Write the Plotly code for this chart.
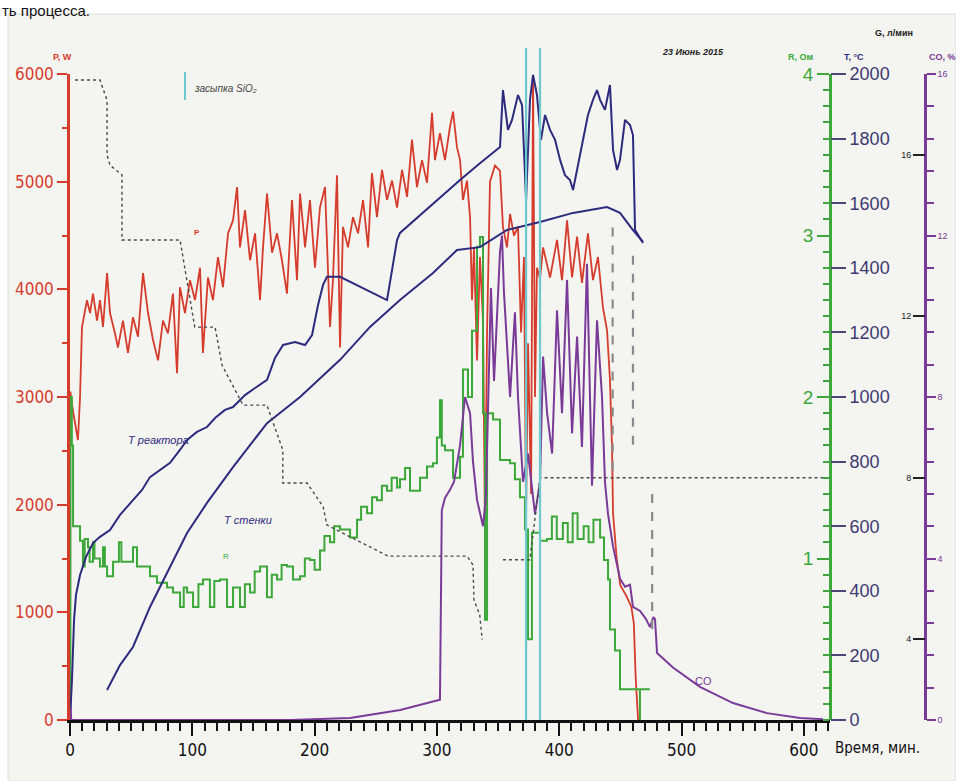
import plotly.graph_objects as go

# ---------------- data (time in minutes) ----------------
# Power P, W
p_time = [0, 0.3, 2, 4, 6.5, 8.2, 9.8, 13.9, 16.4, 18.8, 22.1, 24.5, 27, 30.3, 32.7, 36.8, 39.2,
          43.3, 47.4, 51.5, 55.6, 59.7, 63.8, 67.9, 72, 76, 80.1, 84.2, 87.5, 89.9, 94, 98.1,
          102.2, 106.3, 108.7, 112.8, 116.9, 121, 125.1, 129.2, 133.3, 136.6, 139, 143.1, 147.2,
          151.3, 155.4, 157.8, 161.1, 165.2, 169.3, 173.3, 177.4, 181.5, 185.6, 188.1, 192.2,
          196.2, 200.3, 204.4, 208.5, 212.6, 215, 218.3, 220.8, 223.2, 227.3, 231.4, 235.5,
          239.6, 243.7, 246.9, 251, 255.1, 259.2, 263.3, 267.4, 271.5, 275.6, 279.6, 283.7,
          287.8, 291.9, 296, 298.4, 302.5, 306.6, 310.7, 313.2, 316.4, 318.9, 321.3, 324.6,
          327.1, 328.7, 330.3, 332.8, 335.2, 337.7, 339.3, 341, 343.4, 347.5, 351.6, 354,
          357.3, 359.8, 363, 366.3, 368.8, 371.2, 372.9, 374.5, 377, 378.6, 380.2, 381.8,
          384.3, 386.8, 392.5, 398.2, 402.3, 406.4, 410.5, 414.6, 418.6, 423.5, 427.6, 431.7,
          435.8, 439.1, 441.5, 443.2, 444, 447, 450, 455, 459, 461, 462.5, 464.5]
p_power = [0, 3050, 2900, 2750, 2600, 3000, 3650, 3900, 3780, 3960, 3710, 3900, 3650, 4150,
           3780, 3590, 3460, 3710, 3410, 3740, 3560, 4150, 3780, 3530, 3340, 3710, 3590, 3960,
           3220, 4020, 3780, 4085, 3900, 4200, 3410, 4110, 3900, 4300, 4020, 4520, 4640, 4950,
           4390, 4735, 4270, 4520, 3900, 4390, 4890, 4340, 4520, 4270, 3960, 4830, 4085, 4890,
           4390, 4830, 4200, 4760, 4950, 3650, 4085, 5060, 3460, 4580, 4390, 4670, 4520, 4830,
           4390, 5080, 4670, 5110, 4830, 5010, 4760, 5110, 4860, 5390, 4950, 5200, 4990, 5640,
           5200, 5450, 5200, 5510, 5650, 5320, 5200, 4830, 5010, 4670, 3900, 4390, 3340, 4300,
           3700, 1760, 3600, 5000, 5150, 5100, 4580, 4390, 4700, 4500, 4580, 3600, 4300, 1900,
           3500, 2100, 5970, 3000, 4200, 4100, 4390, 4110, 4460, 4085, 4640, 4110, 4490, 4060,
           4520, 4085, 4300, 3830, 3620, 3160, 2530, 1920, 1500, 1250, 1150, 1050, 900, 400, 0]

# Reactor temperature, °C
tr_time = [0, 1.6, 3.3, 4.9, 8.2, 13.1, 18.8, 24.5, 32.7, 40.9, 51.5, 58.9, 65.4, 73.6, 81.8,
           89.9, 95.7, 103.8, 112, 118.6, 126.7, 133.3, 143.1, 151.3, 161.1, 167.6, 174.2, 184,
           192.2, 197.9, 202.8, 206.9, 210.1, 220.8, 259.2, 263.3, 267.4, 269.8, 286.2, 302.5,
           318.9, 335.2, 349.1, 351.6, 354, 358.1, 361.4, 366.3, 369.6, 372.9, 376.1, 378.6,
           381.8, 385.1, 388.4, 392.5, 396.6, 400.7, 404.7, 408.8, 411.3, 414.6, 419.5, 423.5,
           427.6, 430.9, 433.4, 437.4, 441.5, 444, 447.3, 449.7, 453.8, 457.9, 460.3, 462, 468.5]
tr_temp = [0, 124, 310, 387, 449, 505, 548, 567, 588, 635, 681, 712, 752, 774, 796, 836, 867,
           892, 907, 935, 960, 969, 1006, 1028, 1053, 1121, 1161, 1170, 1161, 1192, 1285, 1347,
           1372, 1372, 1300, 1393, 1486, 1508, 1563, 1619, 1672, 1724, 1765, 1774, 1950, 1827,
           1858, 1935, 1904, 1610, 1920, 1997, 1935, 1796, 1873, 1827, 1796, 1734, 1687, 1672,
           1641, 1703, 1796, 1873, 1920, 1950, 1920, 1889, 1966, 1765, 1703, 1734, 1858, 1842,
           1811, 1517, 1477]

# Wall temperature, °C
tw_time = [30.3, 40.9, 51.5, 65.4, 79.3, 95.7, 112, 133.3, 161.1, 188.1, 220.8, 245.3, 269.8,
           296.8, 316.4, 335.2, 357.3, 384.3, 411.3, 439.1, 449.7, 460.3, 468.5]
tw_temp = [93, 170, 226, 350, 455, 579, 672, 783, 919, 1000, 1115, 1217, 1300, 1384, 1455,
           1464, 1517, 1542, 1570, 1588, 1570, 1517, 1480]

# Resistance R, Ohm
r_time = [0, 0.3, 1.5, 2.5, 8.2, 10.6, 12, 14.7, 16, 18.8, 20, 24.5, 27, 28.5, 30.3, 35.2, 40,
          42, 46.6, 51.5, 54.8, 59.7, 65.4, 71.1, 79.3, 84.2, 90, 93, 95.7, 100.6, 105, 108.7,
          114.4, 118, 122.6, 128.4, 133.3, 139, 143, 147.2, 151, 155.4, 161.1, 165, 169.3, 173,
          177.4, 182.3, 188.1, 192, 196.2, 200, 204.4, 208, 212.6, 216, 220.8, 229, 234.7,
          238, 242.9, 247, 251, 255, 259.2, 263, 267.4, 269.8, 274, 278, 286.2, 291.9, 296.8,
          300, 302.5, 304, 306.6, 313.2, 318.9, 321.3, 325.4, 328.7, 332.8, 335.2, 337.7,
          339.3, 341, 345.9, 351.6, 359.8, 363.8, 367.9, 372, 374.5, 377.7, 384.3, 390, 394,
          398, 403, 407, 411, 415, 420, 424, 428, 433.4, 436.6, 439.9, 441.5, 445.6, 449.7,
          466, 466, 466, 474.1]
r_ohm = [0, 2.0, 1.7, 1.2, 1.11, 0.95, 1.12, 1.07, 0.98, 1.1, 1.0, 0.95, 1.07, 0.95, 0.89,
         0.98, 1.1, 0.98, 0.98, 1.07, 0.95, 0.95, 0.89, 0.85, 0.82, 0.79, 0.7, 0.82, 0.79, 0.7,
         0.84, 0.87, 0.7, 0.86, 0.87, 0.7, 0.82, 0.7, 0.84, 0.79, 0.92, 0.95, 0.76, 0.9, 0.87,
         0.96, 0.95, 0.87, 0.89, 1.0, 0.99, 0.93, 1.05, 1.14, 1.1, 1.2, 1.18, 1.13, 1.24, 1.32,
         1.28, 1.38, 1.36, 1.45, 1.42, 1.5, 1.44, 1.49, 1.56, 1.42, 1.5, 1.57, 1.59, 1.75, 1.98,
         1.7, 1.67, 1.5, 1.63, 2.17, 2.0, 2.41, 2.93, 2.99, 1.9, 0.62, 1.9, 1.86, 1.61, 1.59,
         1.49, 1.38, 1.18, 0.5, 1.16, 1.11, 1.12, 1.26, 1.12, 1.22, 1.1, 1.28, 1.12, 1.2, 1.1,
         1.24, 1.13, 0.99, 0.87, 0.56, 0.43, 0.19, 0.19, 0, 0.19, 0.19]

# CO content, %
co_time = [0, 0.5, 1, 180, 229, 270, 302.5, 304, 306.6, 310.7, 314, 318.9, 323, 327.1, 329.5,
           332.8, 337.7, 340, 344.2, 346.7, 351.6, 353.2, 354.8, 359.8, 363.8, 366.3, 370.4,
           374.5, 380.2, 384.3, 386.8, 390.1, 394.2, 398.2, 402.3, 406.4, 410.5, 414.6, 418.6,
           422.7, 426.8, 430.9, 435, 437.4, 439.9, 444, 449.7, 453.8, 457.9, 460.3, 466.1, 471,
           474.2, 477, 478.3, 480, 493, 515.1, 542.1, 569.9, 596.9, 615.7]
co_pct = [0, 0.3, 0, 0, 0.05, 0.25, 0.5, 5.2, 5.5, 5.7, 5.9, 6.8, 8.0, 7.6, 6.4, 5.45, 4.8, 5.5,
          10.7, 8.4, 11.6, 12.0, 10.6, 8.0, 10.1, 8.0, 5.9, 6.6, 5.1, 5.9, 9.0, 7.6, 6.6, 10.15,
          7.6, 10.9, 7.1, 9.5, 6.76, 11.3, 5.8, 9.9, 8.0, 5.9, 5.1, 4.3, 3.5, 3.3, 3.35, 2.8, 2.7,
          2.5, 2.3, 2.55, 2.5, 1.66, 1.3, 0.82, 0.42, 0.17, 0.05, 0.02]

# Gas flow G, l/min (dotted step record)
g_time = [4.1, 24.5, 30.3, 30.3, 32.7, 42.5, 42.5, 90, 102, 118.6, 124.3, 141.5, 161, 174, 174,
          193.8, 207, 210, 260, 324.6, 329.5, 330.3, 335, 337, None, 354, 376, 384.3, 615.7]
g_flow = [17.85, 17.85, 17.35, 16.0, 15.74, 15.5, 13.89, 13.89, 11.73, 11.73, 10.79, 9.8, 9.8,
          8.69, 7.87, 7.87, 7.28, 6.83, 6.06, 6.06, 5.84, 4.98, 4.6, 3.99, None, 5.97, 5.97,
          8.0, 8.0]

# Gas flow cut-off marks
gcut_time = [443.7, 443.7, None, 460.3, 460.3, None, 476, 476]
gcut_flow = [14.2, 8.1, None, 13.5, 8.76, None, 7.6, 4.16]

# SiO2 charging moments
sio2_times = [372.9, 384.3]

# tick labels
x_ticks = [0, 100, 200, 300, 400, 500, 600]
r_ticks = [1, 2, 3, 4]
g_ticks = [4, 8, 12, 16]

# ---------------- styling ----------------
RED = "#d63c2c"
GREEN = "#3da83a"
NAVY = "#2d2b7e"
PURPLE = "#7a3b98"
TEAL = "#6ec9cc"
BG = "#f4f4f1"
NARROW = "Liberation Sans Narrow, DejaVu Sans Condensed, Liberation Sans, Arial"
SANS = "Liberation Sans, Arial"

W, H = 956, 781
ML, MR, MT, MB = 70, 10, 74, 61
PW = W - ML - MR
PH = H - MT - MB
X_END = 830   # right end of time axis, px
CO_POS = 925  # CO / G axis line, px


def px(x):
    return (x - ML) / PW


def py(y):
    return (H - MB - y) / PH


fig = go.Figure()

fig.add_trace(go.Scatter(x=g_time, y=g_flow, mode="lines", yaxis="y5",
                         line=dict(color="#4a4a4a", width=1.4, dash="dot")))
fig.add_trace(go.Scatter(x=gcut_time, y=gcut_flow, mode="lines", yaxis="y5",
                         line=dict(color="#8a8a8a", width=2.2, dash="dash")))
fig.add_trace(go.Scatter(x=tw_time, y=tw_temp, mode="lines", yaxis="y3",
                         line=dict(color=NAVY, width=2)))
fig.add_trace(go.Scatter(x=tr_time, y=tr_temp, mode="lines", yaxis="y3",
                         line=dict(color=NAVY, width=2)))
fig.add_trace(go.Scatter(x=r_time, y=r_ohm, mode="lines", yaxis="y2",
                         line=dict(color=GREEN, width=2, shape="hv")))
fig.add_trace(go.Scatter(x=co_time, y=co_pct, mode="lines", yaxis="y4",
                         line=dict(color=PURPLE, width=2)))
fig.add_trace(go.Scatter(x=p_time, y=p_power, mode="lines", yaxis="y",
                         line=dict(color=RED, width=1.8)))

shapes = [
    # scanned panel background
    dict(type="rect", xref="paper", yref="paper", x0=px(8), x1=px(W), y0=py(H), y1=py(14),
         fillcolor=BG, line=dict(color="#dcdcda", width=1), layer="below"),
    # legend mark for SiO2 charging
    dict(type="line", xref="paper", yref="paper", x0=px(185), x1=px(185), y0=py(100), y1=py(72),
         line=dict(color=TEAL, width=2)),
]
for t in sio2_times:
    shapes.append(dict(type="line", xref="x", yref="paper", x0=t, x1=t, y0=0, y1=py(48),
                       line=dict(color=TEAL, width=2.2)))

annotations = [
    dict(text="ть процесса.", x=px(0), y=py(0), xanchor="left", yanchor="top",
         font=dict(size=15, color="#111", family=SANS)),
    dict(text="<b>P, W</b>", x=px(62), y=py(57), font=dict(size=9, color=RED, family=SANS)),
    dict(text="<b>R, Ом</b>", x=px(801), y=py(57), font=dict(size=9, color=GREEN, family=SANS)),
    dict(text="<b>T, °C</b>", x=px(854), y=py(57), font=dict(size=9, color=NAVY, family=SANS)),
    dict(text="<b>G, л/мин</b>", x=px(894), y=py(33), font=dict(size=9, color="#222", family=SANS)),
    dict(text="<b>CO, %</b>", x=px(942), y=py(57), font=dict(size=9, color=PURPLE, family=SANS)),
    dict(text="<b><i>23 Июнь 2015</i></b>", x=px(693), y=py(52),
         font=dict(size=9, color="#222", family=SANS)),
    dict(text="<i>засыпка SiO₂</i>", x=px(192), y=py(88), xanchor="left",
         font=dict(size=10, color="#444", family=SANS)),
    dict(text="<i>T реактора</i>", x=px(158), y=py(440), font=dict(size=11, color=NAVY, family=SANS)),
    dict(text="<i>T стенки</i>", x=px(248), y=py(520), font=dict(size=11, color=NAVY, family=SANS)),
    dict(text="<b>P</b>", x=px(197), y=py(232), font=dict(size=8, color=RED, family=SANS)),
    dict(text="R", x=px(226), y=py(556), font=dict(size=8, color=GREEN, family=SANS)),
    dict(text="CO", x=px(703), y=py(681), font=dict(size=11, color=PURPLE, family=SANS)),
    dict(text="Время, мин.", x=px(833), y=py(748), xanchor="left",
         font=dict(size=15, color="#111", family=NARROW)),
]
for a in annotations:
    a.setdefault("xanchor", "center")
    a.setdefault("yanchor", "middle")
    a.update(xref="paper", yref="paper", showarrow=False)

x_dom_end = px(X_END)

fig.update_layout(
    width=W, height=H, template="none", showlegend=False,
    margin=dict(l=ML, r=MR, t=MT, b=MB, pad=0),
    paper_bgcolor="white", plot_bgcolor=BG,
    shapes=shapes, annotations=annotations,
    xaxis=dict(domain=[0, x_dom_end], range=[0, 621.4], showgrid=False, zeroline=False,
               showline=True, linecolor="#111", linewidth=2.5,
               tickmode="array", tickvals=x_ticks, ticktext=[str(v) for v in x_ticks],
               ticks="outside", ticklen=13, tickwidth=2, tickcolor="#111",
               minor=dict(dtick=10, tick0=0, ticks="outside", ticklen=8, tickwidth=1.5,
                          tickcolor="#111", showgrid=False),
               tickfont=dict(size=17, color="#111", family=NARROW), automargin=False),
    yaxis=dict(range=[0, 6000], side="left", showgrid=False, zeroline=False,
               showline=True, linecolor=RED, linewidth=2.5,
               dtick=1000, ticks="outside", ticklen=10, tickwidth=2, tickcolor=RED,
               minor=dict(dtick=500, ticks="outside", ticklen=5, tickwidth=1.5,
                          tickcolor=RED, showgrid=False),
               tickfont=dict(size=17, color=RED, family=NARROW), automargin=False),
    yaxis2=dict(overlaying="y", anchor="free", position=x_dom_end, side="left",
                range=[0, 4], showgrid=False, zeroline=False,
                showline=True, linecolor=GREEN, linewidth=2.5,
                tickmode="array", tickvals=r_ticks, ticks="outside", ticklen=12, tickwidth=2,
                tickcolor=GREEN,
                minor=dict(dtick=0.1, tick0=0, ticks="outside", ticklen=6, tickwidth=1.5,
                           tickcolor=GREEN, showgrid=False),
                tickfont=dict(size=19, color=GREEN, family=SANS), automargin=False),
    yaxis3=dict(overlaying="y", anchor="free", position=x_dom_end, side="right",
                range=[0, 2000], showgrid=False, zeroline=False, showline=False,
                dtick=200, ticks="outside", ticklen=15, tickwidth=2, tickcolor="#4b477a",
                tickfont=dict(size=18, color="#3d3970", family=SANS), automargin=False),
    yaxis4=dict(overlaying="y", anchor="free", position=px(CO_POS), side="right",
                range=[0, 16], showgrid=False, zeroline=False,
                showline=True, linecolor=PURPLE, linewidth=2.5,
                dtick=4, ticks="outside", ticklen=9, tickwidth=2, tickcolor=PURPLE,
                minor=dict(dtick=0.8, ticks="outside", ticklen=7, tickwidth=1.5,
                           tickcolor=PURPLE, showgrid=False),
                tickfont=dict(size=9, color=PURPLE, family=SANS), automargin=False),
    yaxis5=dict(overlaying="y", anchor="free", position=px(CO_POS), side="left",
                range=[2, 18], showgrid=False, zeroline=False, showline=False,
                tickmode="array", tickvals=g_ticks, ticks="outside", ticklen=12,
                tickwidth=2, tickcolor="#222",
                tickfont=dict(size=9, color="#222", family=SANS), automargin=False),
)

fig.write_html("out.html")
